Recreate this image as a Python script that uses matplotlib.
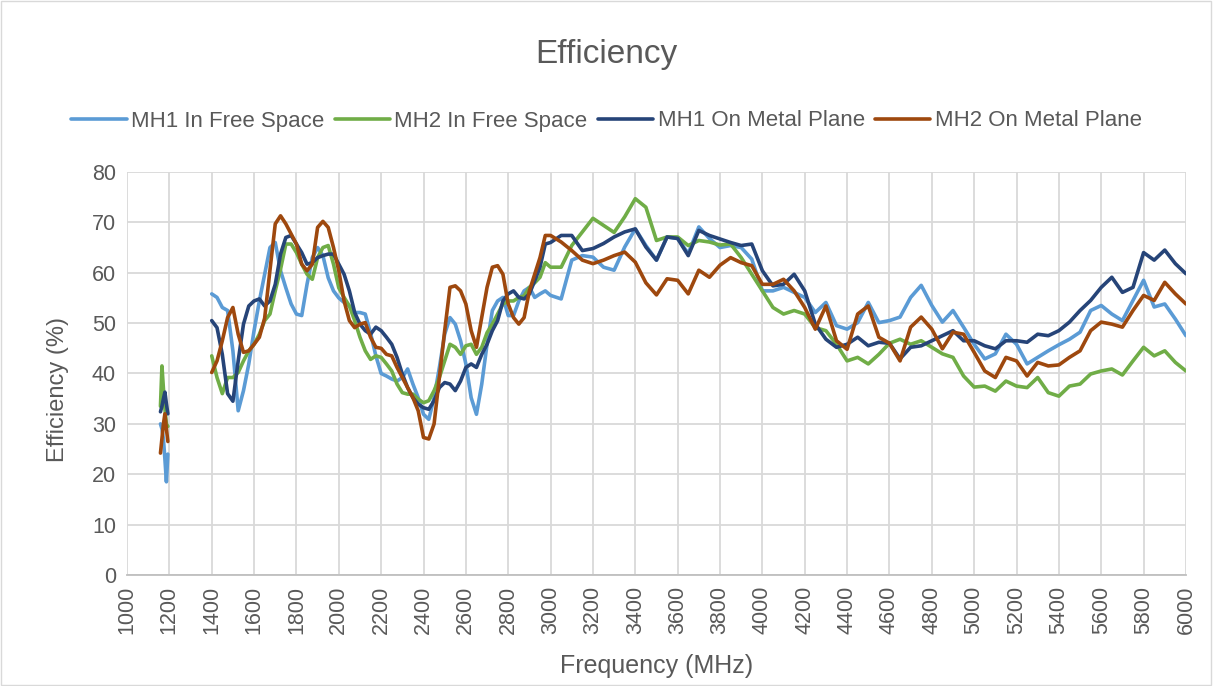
import numpy as np
import matplotlib
matplotlib.use('Agg')
import matplotlib.pyplot as plt
from matplotlib.patches import Rectangle

plt.rcParams['font.family'] = ['Liberation Sans', 'DejaVu Sans']

# frequency points (MHz): short low band, then the main sweep
freq_low = [1158, 1165, 1172, 1179, 1186, 1193]
freq_main = list(range(1400, 3000, 25)) + list(range(3000, 6001, 50))

labels = ['MH1 In Free Space', 'MH2 In Free Space', 'MH1 On Metal Plane', 'MH2 On Metal Plane']
colors = ['#5B9BD5', '#70AD47', '#264478', '#9E480E']

# efficiency (%)
mh1_free_low = [30, 29, 27, 23, 18.5, 24]
mh2_free_low = [33.5, 41.5, 37, 33, 30, 29.5]
mh1_metal_low = [32.4, 33.5, 35, 36.3, 34, 32]
mh2_metal_low = [24.2, 27, 30, 32, 29, 26.5]

mh1_free = [
    # 1400 - 2975, step 25
    55.8, 55.1, 53.1, 52.5, 44.5, 32.6, 36.6, 41.9,
    48.5, 54.4, 59.7, 65.0, 66.0, 60.4, 57.0, 53.8,
    51.8, 51.5, 57.7, 63.0, 65.0, 63.4, 59.0, 56.4,
    55.0, 54.1, 53.4, 52.1, 52.1, 51.8, 48.0, 43.5,
    40.0, 39.5, 38.9, 38.5, 39.2, 40.9, 37.9, 35.2,
    31.9, 30.9, 35.2, 41.2, 47.8, 51.1, 49.8, 46.5,
    41.9, 35.2, 31.9, 37.9, 45.8, 52.5, 54.4, 55.1,
    51.5, 51.5, 54.4, 56.4, 57.1, 55.1, 55.8, 56.4,
    # 3000 - 6000, step 50
    55.5, 54.8, 62.5, 63.4, 63.1, 61.1, 60.5, 65.1, 68.7, 65.4,
    62.5, 67.1, 66.8, 63.8, 69.1, 66.8, 65.0, 65.4, 65.0, 62.7,
    56.4, 56.4, 57.1, 56.1, 55.1, 52.1, 54.1, 49.5, 48.8, 50.1,
    54.1, 50.1, 50.5, 51.2, 55.1, 57.5, 53.5, 50.2, 52.5, 49.2,
    45.8, 42.9, 43.9, 47.8, 45.8, 41.9, 43.2, 44.5, 45.7, 46.8,
    48.2, 52.5, 53.5, 51.8, 50.5, 54.5, 58.5, 53.2, 53.8, 50.8,
    47.5,
]
mh2_free = [
    43.5, 39.2, 36.0, 39.2, 39.2, 40.2, 42.5, 44.5,
    45.8, 47.8, 50.5, 51.8, 56.4, 60.7, 65.7, 65.7,
    64.0, 61.7, 59.7, 58.7, 63.0, 65.0, 65.4, 61.7,
    57.0, 55.1, 53.4, 50.5, 47.2, 44.5, 42.8, 43.5,
    43.2, 41.9, 40.5, 37.9, 36.2, 35.9, 35.9, 34.9,
    34.2, 34.6, 36.6, 39.2, 42.5, 45.8, 45.2, 43.8,
    45.5, 45.8, 43.8, 45.2, 48.1, 49.8, 51.8, 53.8,
    54.4, 54.4, 55.1, 55.4, 57.1, 58.0, 59.1, 62.0,
    61.1, 61.1, 65.4, 68.1, 70.8, 69.4, 68.0, 71.1, 74.7, 73.0,
    66.4, 67.1, 67.1, 65.4, 66.4, 66.1, 65.5, 65.7, 63.0, 59.7,
    56.4, 53.1, 51.8, 52.5, 51.8, 49.1, 48.5, 45.8, 42.5, 43.2,
    41.9, 43.8, 46.0, 46.8, 45.8, 46.5, 45.2, 43.9, 43.2, 39.5,
    37.3, 37.5, 36.5, 38.5, 37.5, 37.2, 39.2, 36.2, 35.5, 37.5,
    37.9, 39.9, 40.5, 40.9, 39.7, 42.5, 45.2, 43.5, 44.5, 42.2,
    40.5,
]
mh1_metal = [
    50.5, 49.1, 43.8, 36.0, 34.5, 42.5, 49.8, 53.4,
    54.4, 54.8, 53.4, 54.4, 57.7, 63.7, 67.0, 67.4,
    65.7, 64.0, 61.7, 62.0, 63.0, 63.4, 63.7, 63.7,
    61.7, 59.7, 56.4, 52.1, 49.8, 48.5, 47.8, 49.2,
    48.5, 47.2, 45.8, 43.2, 39.9, 37.2, 35.2, 33.9,
    33.2, 32.9, 34.6, 37.2, 38.2, 37.9, 36.6, 38.5,
    41.2, 41.9, 41.2, 43.8, 45.8, 48.5, 50.5, 54.4,
    55.8, 56.4, 55.1, 54.8, 55.8, 58.4, 61.1, 65.7,
    66.0, 67.4, 67.4, 64.4, 64.8, 65.8, 67.1, 68.1, 68.7, 65.1,
    62.5, 67.1, 66.8, 63.4, 68.4, 67.4, 66.7, 66.0, 65.4, 65.7,
    60.4, 57.4, 57.7, 59.7, 56.4, 49.8, 46.8, 45.2, 45.8, 47.2,
    45.5, 46.2, 46.0, 42.9, 45.2, 45.5, 46.5, 47.5, 48.5, 46.5,
    46.5, 45.5, 44.9, 46.5, 46.5, 46.2, 47.8, 47.5, 48.5, 50.2,
    52.5, 54.5, 57.1, 59.1, 56.1, 57.1, 64.0, 62.5, 64.5, 61.8,
    59.8,
]
mh2_metal = [
    40.2, 42.5, 46.5, 51.1, 53.1, 47.8, 44.2, 44.5,
    45.8, 47.2, 51.0, 60.5, 69.7, 71.3, 69.7, 67.7,
    65.7, 61.7, 60.4, 61.7, 69.0, 70.2, 69.0, 65.0,
    60.4, 54.4, 50.5, 49.1, 49.8, 50.1, 47.2, 45.2,
    45.0, 43.8, 43.5, 41.2, 39.2, 37.2, 35.2, 32.6,
    27.3, 27.0, 30.0, 39.2, 48.5, 57.1, 57.4, 56.4,
    53.8, 48.5, 45.2, 51.1, 57.1, 61.1, 61.4, 59.7,
    53.8, 51.1, 49.8, 51.1, 56.4, 59.7, 63.0, 67.4,
    67.4, 66.1, 64.4, 62.5, 61.8, 62.5, 63.4, 64.1, 62.1, 58.0,
    55.6, 58.8, 58.5, 55.8, 60.5, 59.1, 61.5, 63.0, 62.0, 61.4,
    57.7, 57.7, 58.7, 56.4, 53.1, 48.8, 53.4, 46.5, 44.8, 51.8,
    53.4, 47.2, 46.0, 42.5, 49.2, 51.2, 48.8, 44.9, 48.2, 47.8,
    44.2, 40.5, 39.2, 43.2, 42.5, 39.5, 42.2, 41.5, 41.7, 43.2,
    44.5, 48.5, 50.2, 49.8, 49.2, 52.5, 55.5, 54.5, 58.1, 55.8,
    53.8,
]

x_ticks = list(range(1000, 6001, 200))
y_ticks = list(range(0, 81, 10))

fig = plt.figure(figsize=(12.13, 6.86), dpi=100)
ax = fig.add_axes([0.1047, 0.1618, 0.873, 0.5875])

lows = [mh1_free_low, mh2_free_low, mh1_metal_low, mh2_metal_low]
mains = [mh1_free, mh2_free, mh1_metal, mh2_metal]
handles = []
for lo, hi, c, lab in zip(lows, mains, colors, labels):
    x = np.concatenate([freq_low, [np.nan], freq_main])
    y = np.concatenate([lo, [np.nan], hi])
    h, = ax.plot(x, y, color=c, lw=2.6, label=lab,
                 solid_joinstyle='round', solid_capstyle='round')
    handles.append(h)

ax.set_xlim(1000, 6000)
ax.set_ylim(0, 80)
ax.set_xticks(x_ticks)
ax.set_yticks(y_ticks)
ax.tick_params(axis='x', labelrotation=90, length=0, labelsize=15.5, labelcolor='#595959', pad=8)
ax.tick_params(axis='y', length=0, labelsize=15.5, labelcolor='#595959', pad=8)
ax.grid(True, color='#D9D9D9', lw=1.3)
ax.set_axisbelow(True)
for s in ['top', 'right', 'left']:
    ax.spines[s].set_visible(False)
ax.spines['bottom'].set_color('#BFBFBF')
ax.spines['bottom'].set_linewidth(1.3)

ax.set_xlabel('Frequency (MHz)', fontsize=18, color='#595959')
ax.set_ylabel('Efficiency (%)', fontsize=17, color='#595959')
ax.xaxis.label.set_va('center')
ax.yaxis.label.set_va('center')
ax.xaxis.set_label_coords(0.5, (575 - 666) / 403)
ax.yaxis.set_label_coords((58 - 127) / 1059, (575 - 390) / 403)

fig.text(0.5, 1 - 55 / 686, 'Efficiency', ha='center', va='center', fontsize=24, color='#595959')
fig.legend(handles=handles, loc='center', bbox_to_anchor=(0.5, 1 - 121 / 686), ncol=4,
           frameon=False, fontsize=16, handlelength=2.5, handletextpad=0.2,
           columnspacing=0.45, labelcolor='#595959')

fig.patches.append(Rectangle((0.001, 0.001), 0.997, 0.997, transform=fig.transFigure,
                             fill=False, edgecolor='#D9D9D9', lw=1))

fig.savefig('out.png', dpi=100)
